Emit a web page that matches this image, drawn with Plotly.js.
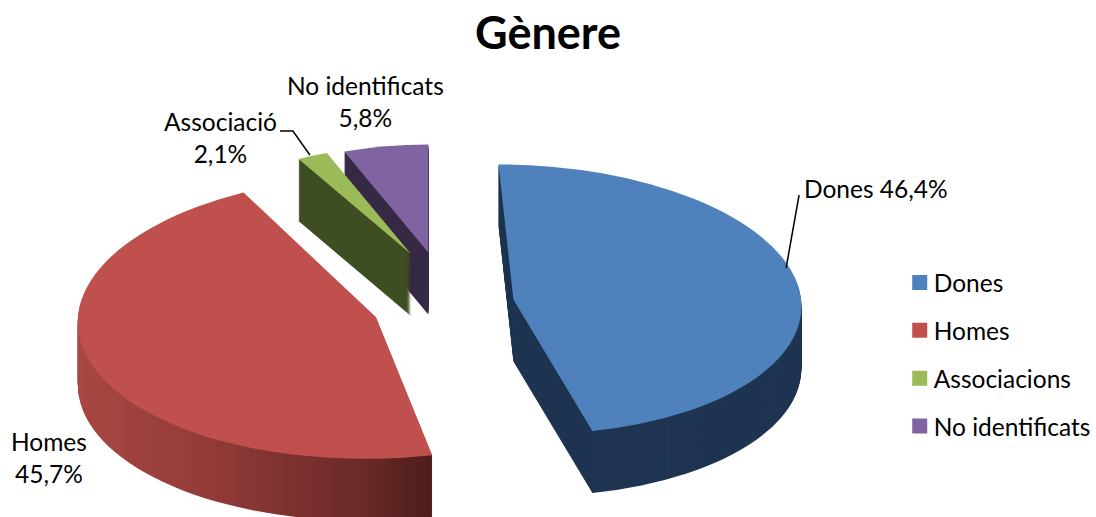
<!DOCTYPE html>
<html><head><meta charset="utf-8">
<script src="https://cdn.plot.ly/plotly-3.0.0.min.js"></script>
<style>html,body{margin:0;padding:0;background:#fff}#c{width:1096px;height:517px}</style>
</head><body><div id="c"></div>
<script>
const chartTitle = 'Gènere';
const categories = ['Dones', 'Homes', 'Associacions', 'No identificats'];
const sliceLabels = ['Dones', 'Homes', 'Associació', 'No identificats'];
const values = [46.4, 45.7, 2.1, 5.8];
const topColors = ['#4f81bd', '#c0504d', '#9bbb59', '#8064a2'];
const sideColors = ['#1f3552', '#7f302e', '#3e4d22', '#352944'];
const pulls = [0.23, 0.254, 0.22, 0.20];
// per-slice perspective correction: x scale, y scale, skew (screen slope), x shift, y shift
const warp = [[0.975, 1, 0.11, 3, -2], [1.01, 1.05, -0.08, 3, 0], [0.8, 0.8, 0, -5, -24], [0.8, 0.8, 0, -4, -26]];

const W = 1096, H = 517, FONT = 'Lato, Calibri, sans-serif';
const Rx = 295, Ry = 135, centerX = 443, centerY = 305, depthPx = 62, layers = 63, domH = 0.8;
const pct = v => v.toFixed(1).replace('.', ',') + '%';
const r0 = domH * H / 2 / (1 + Math.max(...pulls));
const sx = Rx / r0, sy = Ry / r0;
const dMax = depthPx / (H * sy);

const traces = [];
for (let i = 0; i < layers; i++) {
  const d = dMax * (1 - i / (layers - 1));
  const isTop = i === layers - 1;
  traces.push({
    type: 'pie', labels: categories, values: values, sort: false, direction: 'clockwise', rotation: 0,
    pull: pulls, textinfo: 'none', hoverinfo: 'skip', showlegend: false,
    domain: {x: [0, 1], y: [1 - domH - d, 1 - d]},
    marker: {colors: isTop ? topColors : sideColors, line: {width: 0}}
  });
}
categories.forEach((name, i) => traces.push({
  type: 'scatter', mode: 'markers', x: [null], y: [null], name: name, legendgroup: name, showlegend: true,
  marker: {symbol: 'square', size: 15, color: topColors[i]}, hoverinfo: 'skip'
}));

const note = (text, x, y) => ({text, x: x / W, y: 1 - y / H, xref: 'paper', yref: 'paper', xanchor: 'center', yanchor: 'middle', showarrow: false, font: {family: FONT, size: 24.5, color: '#000'}});
const lead = pts => ({type: 'path', xref: 'paper', yref: 'paper', line: {color: '#000', width: 1.5},
  path: pts.map((p, i) => (i ? 'L' : 'M') + (p[0] / W) + ' ' + (1 - p[1] / H)).join(' ')});

const layout = {
  width: W, height: H, margin: {l: 0, r: 0, t: 0, b: 0}, paper_bgcolor: '#fff', plot_bgcolor: '#fff',
  xaxis: {visible: false}, yaxis: {visible: false},
  title: {text: '<b>' + chartTitle + '</b>', x: 548 / W, xanchor: 'center', y: 1 - 33 / H, yanchor: 'middle', font: {family: FONT, size: 45, color: '#000'}},
  showlegend: true,
  legend: {x: 897 / W, xanchor: 'left', y: 1 - 260 / H, yanchor: 'top', font: {family: FONT, size: 24.5, color: '#000'}, tracegroupgap: 13, itemwidth: 30, bgcolor: 'rgba(0,0,0,0)', traceorder: 'grouped'},
  annotations: [
    note(sliceLabels[0] + ' ' + pct(values[0]), 879, 188),
    note(sliceLabels[1] + '<br>' + pct(values[1]), 49, 457),
    note(sliceLabels[2] + '<br>' + pct(values[2]), 221, 138),
    note(sliceLabels[3] + '<br>' + pct(values[3]), 367, 102)
  ],
  shapes: [lead([[802, 195], [789, 268]]), lead([[281, 131], [294, 131], [311, 155]])]
};

Plotly.newPlot('c', traces, layout, {staticPlot: true, displayModeBar: false}).then(gd => {
  const c = gd.calcdata[layers - 1][0];
  gd.querySelector('.pielayer').setAttribute('transform',
    `translate(${centerX - sx * c.cx} ${centerY - sy * c.cy}) scale(${sx} ${sy})`);
  const defs = gd.querySelector('.main-svg defs');
  const ns = 'http://www.w3.org/2000/svg';
  const g = document.createElementNS(ns, 'linearGradient');
  g.setAttribute('id', 'homesSide');
  [[0, '#a84744'], [0.35, '#953c39'], [0.8, '#6c2a28'], [1, '#4d1d1c']].forEach(s => {
    const st = document.createElementNS(ns, 'stop');
    st.setAttribute('offset', s[0]); st.setAttribute('stop-color', s[1]); g.appendChild(st);
  });
  defs.appendChild(g);
  gd.querySelectorAll('.pielayer .trace').forEach((t, i) => {
    t.querySelectorAll('.slice path.surface').forEach((p, k) => {
      const pt = p.__data__, w = warp[k];
      p.setAttribute('transform',
        `translate(${pt.cxFinal + w[3] / sx} ${pt.cyFinal + w[4] / sy}) matrix(${w[0]} 0 ${w[2] * sy / sx} ${w[1]} 0 0) translate(${-pt.cxFinal} ${-pt.cyFinal})`);
      if (k === 1 && i < layers - 1) p.style.fill = 'url(#homesSide)';
    });
  });
  gd.querySelectorAll('.legend .legendsymbols').forEach(s => s.setAttribute('transform', 'translate(6 0)'));
});
</script></body></html>
